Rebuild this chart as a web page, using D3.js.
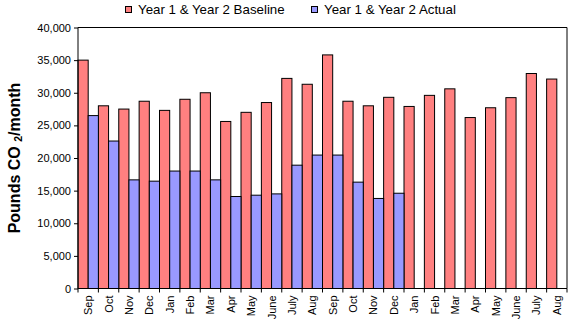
<!DOCTYPE html>
<html>
<head>
<meta charset="utf-8">
<script src="https://cdn.jsdelivr.net/npm/d3@7"></script>
<style>
  body { margin: 0; background: #fff; }
  svg { display: block; font-family: "Liberation Sans", Arial, sans-serif; }
</style>
</head>
<body>
<svg id="chart" width="575" height="330"></svg>
<script>
const months = ["Sep","Oct","Nov","Dec","Jan","Feb","Mar","Apr","May","June","July","Aug",
                "Sep","Oct","Nov","Dec","Jan","Feb","Mar","Apr","May","June","July","Aug"];
const baseline = [35000,28000,27500,28700,27300,29000,30000,25600,27000,28500,32200,31300,
                  35800,28700,28000,29300,27900,29600,30600,26200,27700,29250,32950,32100];
const actual = [26500,22600,16650,16450,18000,18000,16650,14100,14300,14500,18900,20450,
                20450,16300,13800,14600,null,null,null,null,null,null,null,null];
const yTicks = [0,5000,10000,15000,20000,25000,30000,35000,40000];
const seriesNames = ["Year 1 & Year 2 Baseline","Year 1 & Year 2 Actual"];
const colors = ["#FF8080","#9999FF"];

const svg = d3.select("#chart");
const L = 78, R = 567, T = 27.5, B = 288.5;

const x = d3.scaleBand().domain(d3.range(months.length)).range([L, R]).padding(0);
const y = d3.scaleLinear().domain([0, 40000]).range([B, T]);

// plot frame (top/right)
svg.append("path")
  .attr("d", `M${L},${T}H${R}V${B}`)
  .attr("fill", "none").attr("stroke", "#000").attr("stroke-width", 1);

const bw = x.bandwidth() / 2;

// bars
const g = svg.append("g");
g.selectAll("rect.base").data(baseline).join("rect")
  .attr("x", (d, i) => x(i))
  .attr("y", d => y(d))
  .attr("width", bw)
  .attr("height", d => B - y(d))
  .attr("fill", colors[0]).attr("stroke", "#000").attr("stroke-width", 1);

g.selectAll("rect.act").data(actual.map((v, i) => ({v, i})).filter(d => d.v != null)).join("rect")
  .attr("x", d => x(d.i) + bw)
  .attr("y", d => y(d.v))
  .attr("width", bw)
  .attr("height", d => B - y(d.v))
  .attr("fill", colors[1]).attr("stroke", "#000").attr("stroke-width", 1);

// y axis
const yAxis = d3.axisLeft(y).tickValues(yTicks).tickSize(4).tickPadding(3)
  .tickFormat(d3.format(","));
const ya = svg.append("g").attr("transform", `translate(${L},0)`).call(yAxis);
ya.select(".domain").attr("d", `M-0,${T}V${B}`).attr("stroke", "#000");
ya.selectAll("text").attr("font-size", 11).attr("fill", "#000")
  .attr("font-family", "'Liberation Sans', Arial, sans-serif");

// x axis: ticks at category boundaries
const xa = svg.append("g").attr("transform", `translate(0,${B})`);
xa.append("line").attr("x1", L).attr("x2", R).attr("stroke", "#000");
const bounds = d3.range(months.length + 1).map(i => i < months.length ? x(i) : R);
xa.selectAll("line.tk").data(bounds).join("line")
  .attr("x1", d => d).attr("x2", d => d).attr("y1", 0).attr("y2", 4).attr("stroke", "#000");
xa.selectAll("text").data(months).join("text")
  .attr("transform", (d, i) => `translate(${x(i) + x.bandwidth() / 2 + 4},${7}) rotate(-90)`)
  .attr("text-anchor", "end")
  .attr("font-size", 11)
  .attr("fill", "#000")
  .text(d => d);

// y title
const yt = svg.append("text")
  .attr("transform", `translate(20,${(T + B) / 2}) rotate(-90)`)
  .attr("text-anchor", "middle")
  .attr("font-size", 16).attr("font-weight", "bold").attr("fill", "#000");
yt.append("tspan").text("Pounds CO ");
yt.append("tspan").attr("font-size", 10.5).attr("dy", 2).text("2");
yt.append("tspan").attr("dy", -2).text("/month");

// legend
const legX = [125, 311];
const lg = svg.append("g");
seriesNames.forEach((name, i) => {
  lg.append("rect").attr("x", legX[i] + 0.5).attr("y", 6.5).attr("width", 6).attr("height", 6)
    .attr("fill", colors[i]).attr("stroke", "#000").attr("stroke-width", 1);
  lg.append("text").attr("x", legX[i] + 13).attr("y", 13.5)
    .attr("font-size", 13.3).attr("fill", "#000").text(name);
});
</script>
</body>
</html>
